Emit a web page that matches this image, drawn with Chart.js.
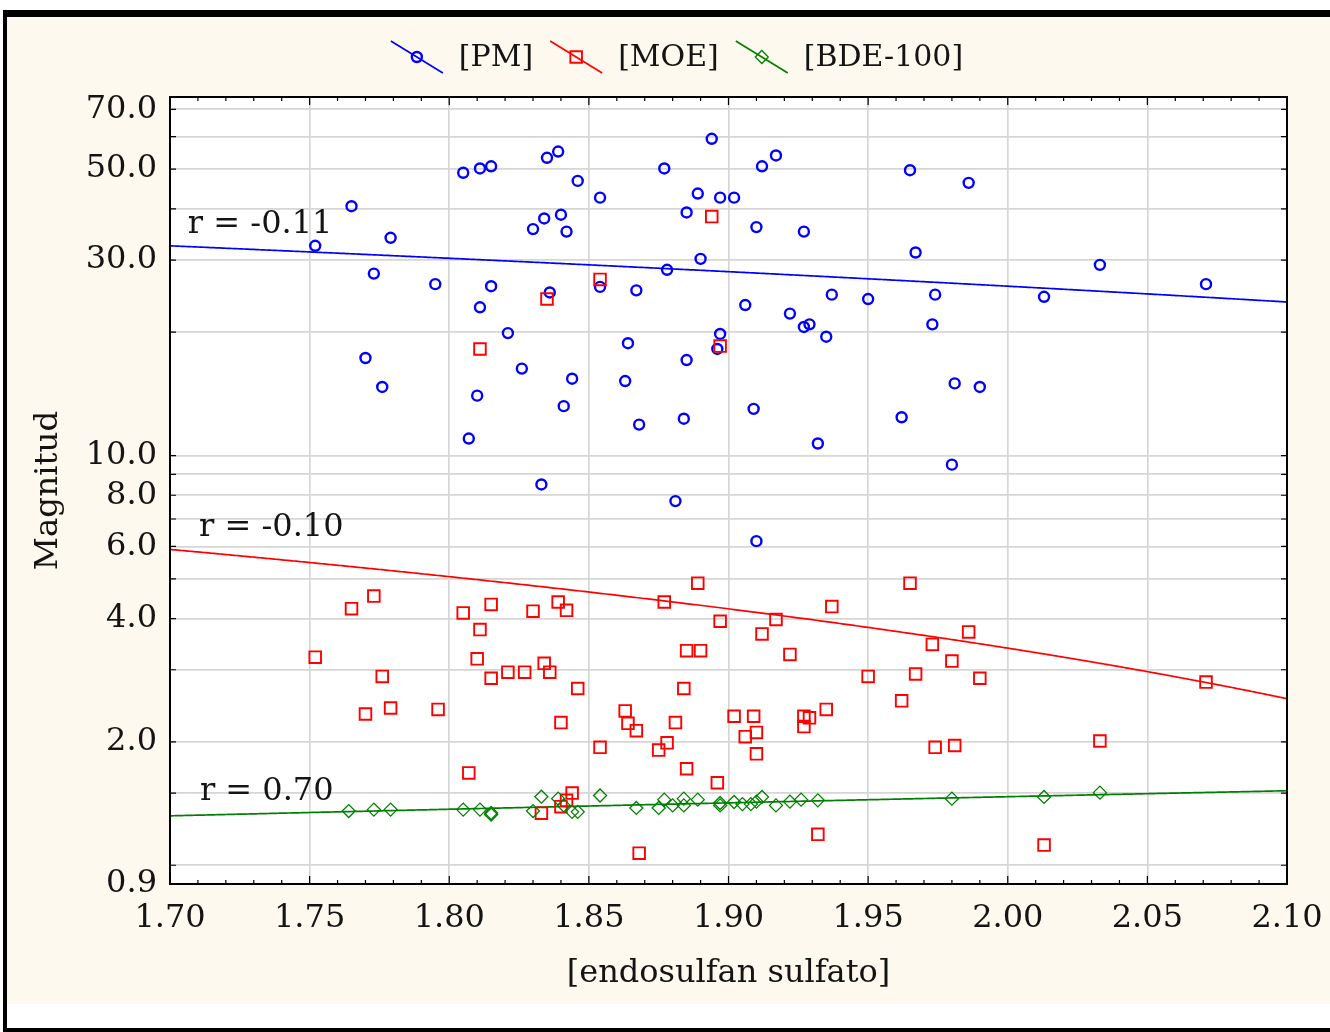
<!DOCTYPE html>
<html><head><meta charset="utf-8">
<script src="https://cdn.jsdelivr.net/npm/chart.js@4/dist/chart.umd.min.js"></script>
<style>
html,body{margin:0;padding:0;background:#fff;width:1330px;height:1032px;overflow:hidden}
#frame{position:absolute;left:3px;top:10px;width:1400px;height:1011px;border-top:7px solid #000;border-left:4px solid #000;border-bottom:4px solid #000;background:#fff}
#c{position:absolute;left:0;top:0;background:#FEF9EE}
</style></head><body>
<div id="frame"><canvas id="c" width="1323" height="987"></canvas></div>
<script>
// ---- data ----
const seriesNames = ['[PM]', '[MOE]', '[BDE-100]'];

const pmX = [1.752,1.765,1.779,1.773,1.795,1.805,1.811,1.815,1.835,1.839,1.830,1.834,1.840,1.842,1.815,1.811,1.821,1.836,1.770,1.776,1.826,1.810,1.807,1.841,1.846,1.854,1.877,1.894,1.889,1.897,1.902,1.885,1.912,1.917,1.910,1.927,1.965,1.890,1.878,1.854,1.867,1.967,1.906,1.922,1.927,1.929,1.937,1.950,1.974,1.973,1.935,1.897,1.896,1.864,1.885,1.844,1.863,1.868,1.884,1.909,1.932,1.962,1.986,2.033,2.071,2.013,1.981,1.990,1.980,1.833,1.881,1.910];
const pmY = [32.5,40.6,34.0,27.8,26.2,49.0,50.2,50.8,53.3,55.2,35.7,37.9,38.7,35.2,25.9,23.0,19.9,25.0,17.3,14.7,16.3,14.0,11.0,13.2,46.8,42.6,50.2,59.3,43.6,42.6,42.6,39.2,50.8,54.0,36.1,35.2,49.7,30.2,28.4,25.8,25.3,31.3,23.3,22.2,20.6,20.9,24.7,24.1,24.7,20.9,19.5,19.8,18.2,18.8,17.1,15.4,15.2,11.9,12.3,13.0,10.7,12.4,46.3,29.2,26.2,24.4,15.0,14.7,9.5,8.5,7.74,6.18];

const moeX = [1.835,1.811,1.894,1.854,1.897,1.752,1.765,1.773,1.776,1.770,1.779,1.796,1.805,1.815,1.811,1.810,1.815,1.821,1.827,1.830,1.839,1.834,1.836,1.807,1.833,1.840,1.842,1.846,1.854,1.844,1.877,1.889,1.897,1.885,1.890,1.884,1.863,1.864,1.867,1.881,1.878,1.875,1.885,1.896,1.868,1.912,1.917,1.922,1.937,1.965,1.973,1.950,1.967,1.962,1.974,1.902,1.909,1.906,1.910,1.910,1.927,1.929,1.927,1.935,1.932,1.986,1.980,1.990,1.981,2.033,2.013,2.071,1.840,1.842];
const moeY = [24.1,18.2,38.3,26.9,18.5,3.22,4.23,4.54,2.89,2.34,2.42,2.40,4.13,4.33,3.76,3.19,2.86,2.96,2.96,4.17,4.39,3.11,2.96,1.68,1.34,2.23,4.19,2.70,1.94,1.50,4.39,4.88,3.94,3.34,3.34,2.70,2.38,2.22,2.13,2.23,1.99,1.91,1.72,1.59,1.07,3.67,3.98,3.27,4.28,4.88,3.46,2.89,2.93,2.52,1.94,2.31,2.31,2.06,2.11,1.87,2.31,2.29,2.18,2.40,1.19,3.71,3.15,2.86,1.96,2.01,1.12,2.80,1.39,1.44];

const bdeX = [1.764,1.773,1.779,1.805,1.811,1.815,1.815,1.830,1.833,1.839,1.841,1.844,1.846,1.854,1.867,1.875,1.877,1.880,1.884,1.884,1.889,1.897,1.897,1.902,1.905,1.908,1.910,1.912,1.917,1.922,1.926,1.932,1.980,2.013,2.033];
const bdeY = [1.356,1.367,1.367,1.367,1.367,1.341,1.33,1.356,1.47,1.454,1.40,1.35,1.35,1.48,1.38,1.38,1.446,1.40,1.40,1.454,1.446,1.419,1.40,1.427,1.41,1.41,1.43,1.468,1.40,1.43,1.446,1.44,1.454,1.468,1.504];

// regression lines (value at x = 1.70 and x = 2.10)
const fitX = [1.70, 2.10];
const pmFit = [32.5, 23.7];
const moeFit = [5.90, 2.55];
const bdeFit = [1.32, 1.52];

const rLabels = ['r = -0.11', 'r = -0.10', 'r = 0.70'];
const rLabelX = [1.7064, 1.7104, 1.7107];
const rLabelY = [36.6, 6.67, 1.515];

const xTickValues = [1.70,1.75,1.80,1.85,1.90,1.95,2.00,2.05,2.10];
const xTickLabels = ['1.70','1.75','1.80','1.85','1.90','1.95','2.00','2.05','2.10'];
const yGridValues = [0.9,1,1.5,2,3,4,5,6,7,8,9,10,20,30,40,50,60,70];
const yTickLabels = ['0.9','','','2.0','','4.0','','6.0','','8.0','','10.0','','30.0','','50.0','','70.0'];

const colors = ['#0000FF', '#FF0000', '#008000'];
const FONT = '"DejaVu Serif", "Liberation Serif", serif';
const TXT = '#141414';

const pts = (xs, ys) => xs.map((x, i) => ({x, y: ys[i]}));
const fits = [{y: pmFit, color: colors[0]}, {y: moeFit, color: colors[1]}, {y: bdeFit, color: colors[2]}];
const markers = [
  {style: 'circle', r: 5, w: 2.4},
  {style: 'rect', r: 8.2, w: 1.9},
  {style: 'rectRot', r: 6.5, w: 1.3}
];

function drawMarker(ctx, m, color, x, y) {
  ctx.save();
  ctx.strokeStyle = color; ctx.lineWidth = m.w;
  ctx.beginPath();
  if (m.style === 'circle') ctx.arc(x, y, m.r, 0, Math.PI * 2);
  else if (m.style === 'rect') { const s = m.r * Math.SQRT1_2; ctx.rect(x - s, y - s, 2 * s, 2 * s); }
  else { ctx.moveTo(x - m.r, y); ctx.lineTo(x, y - m.r); ctx.lineTo(x + m.r, y); ctx.lineTo(x, y + m.r); ctx.closePath(); }
  ctx.stroke();
  ctx.restore();
}

const decor = {
  id: 'decor',
  beforeDraw(chart) {
    const {ctx, chartArea: a} = chart;
    ctx.save(); ctx.fillStyle = '#fff';
    ctx.fillRect(a.left, a.top, a.right - a.left, a.bottom - a.top);
    ctx.restore();
  },
  beforeDatasetsDraw(chart) {
    const {ctx, chartArea: a, scales: {x, y}} = chart;
    ctx.save();
    ctx.beginPath(); ctx.rect(a.left, a.top, a.right - a.left, a.bottom - a.top); ctx.clip();
    fits.forEach(f => {
      ctx.beginPath(); ctx.strokeStyle = f.color; ctx.lineWidth = 1.7;
      let first = true;
      for (let px = a.left; px <= a.right + 2; px += 2) {
        const xv = x.getValueForPixel(px);
        const t = (xv - fitX[0]) / (fitX[1] - fitX[0]);
        const yv = f.y[0] + (f.y[1] - f.y[0]) * t;
        const py = y.getPixelForValue(yv);
        if (first) { ctx.moveTo(px, py); first = false; } else ctx.lineTo(px, py);
      }
      ctx.stroke();
    });
    ctx.restore();
  },
  afterDatasetsDraw(chart) {
    const {ctx, chartArea: a, scales: {x, y}} = chart;
    ctx.save();
    ctx.strokeStyle = '#000'; ctx.lineWidth = 1.2;
    ctx.beginPath();
    for (let i = 0; i < xTickValues.length; i++) {
      const px = x.getPixelForValue(xTickValues[i]);
      ctx.moveTo(px, a.bottom); ctx.lineTo(px, a.bottom - 8);
      ctx.moveTo(px, a.top); ctx.lineTo(px, a.top + 8);
      if (i < xTickValues.length - 1) {
        for (let k = 1; k < 5; k++) {
          const v = xTickValues[i] + (xTickValues[i + 1] - xTickValues[i]) * k / 5;
          const q = x.getPixelForValue(v);
          ctx.moveTo(q, a.bottom); ctx.lineTo(q, a.bottom - 4);
          ctx.moveTo(q, a.top); ctx.lineTo(q, a.top + 4);
        }
      }
    }
    yGridValues.forEach(v => {
      const py = y.getPixelForValue(v);
      ctx.moveTo(a.left, py); ctx.lineTo(a.left + 6, py);
      ctx.moveTo(a.right, py); ctx.lineTo(a.right - 6, py);
    });
    ctx.stroke();
    ctx.lineWidth = 2;
    ctx.strokeRect(a.left, a.top, a.right - a.left, a.bottom - a.top);
    ctx.fillStyle = TXT; ctx.font = '32px ' + FONT;
    ctx.textAlign = 'left'; ctx.textBaseline = 'middle';
    rLabels.forEach((t, i) => ctx.fillText(t, x.getPixelForValue(rLabelX[i]), y.getPixelForValue(rLabelY[i])));
    ctx.restore();
  },
  afterDraw(chart) {
    const {ctx} = chart;
    ctx.save();
    ctx.font = '30px ' + FONT; ctx.fillStyle = TXT;
    ctx.textAlign = 'left'; ctx.textBaseline = 'middle';
    const iconW = 52, gap1 = 16, gap2 = 17, cy = 40, cx = 670;
    const widths = seriesNames.map(n => ctx.measureText(n).width);
    const total = widths.reduce((s, w) => s + w + iconW + gap1, 0) + gap2 * (seriesNames.length - 1);
    let xx = cx - total / 2;
    seriesNames.forEach((n, i) => {
      ctx.strokeStyle = colors[i]; ctx.lineWidth = 1.6;
      ctx.beginPath(); ctx.moveTo(xx, cy - 16); ctx.lineTo(xx + iconW, cy + 16); ctx.stroke();
      drawMarker(ctx, markers[i], colors[i], xx + iconW / 2, cy);
      ctx.fillText(n, xx + iconW + gap1, cy + 1);
      xx += iconW + gap1 + widths[i] + gap2;
    });
    ctx.restore();
  }
};

const datasets = [
  {label: seriesNames[0], data: pts(pmX, pmY), order: 3},
  {label: seriesNames[1], data: pts(moeX, moeY), order: 2},
  {label: seriesNames[2], data: pts(bdeX, bdeY), order: 1}
].map((d, i) => Object.assign(d, {
  borderColor: colors[i], backgroundColor: 'rgba(0,0,0,0)',
  pointStyle: markers[i].style, pointRadius: markers[i].r, pointBorderWidth: markers[i].w,
  pointHoverRadius: markers[i].r, showLine: false
}));

new Chart(document.getElementById('c').getContext('2d'), {
  type: 'scatter',
  data: {datasets},
  plugins: [decor],
  options: {
    responsive: false, animation: false,
    layout: {padding: {left: 0, top: 80, right: 43, bottom: 0}},
    plugins: {legend: {display: false}, tooltip: {enabled: false}},
    scales: {
      x: {
        type: 'linear', min: 1.70, max: 2.10,
        afterBuildTicks: s => { s.ticks = xTickValues.map(v => ({value: v})); },
        afterFit: s => { s.height = 120; s.paddingLeft = 0; s.paddingRight = 0; },
        ticks: {autoSkip: false, maxRotation: 0, padding: 15, color: TXT,
          font: {family: FONT, size: 32}, callback: (v, i) => xTickLabels[i]},
        grid: {color: '#d6d6d6', lineWidth: 1.7, drawTicks: false},
        border: {display: false},
        title: {display: true, text: '[endosulfan sulfato]', color: TXT,
          font: {family: FONT, size: 32}, padding: {top: 0, bottom: 11}}
      },
      y: {
        type: 'logarithmic', min: 0.9, max: 75,
        afterBuildTicks: s => { s.ticks = yGridValues.map(v => ({value: v})); },
        afterFit: s => { s.width = 163; s.paddingTop = 0; s.paddingBottom = 0; },
        ticks: {autoSkip: false, padding: 13, color: TXT,
          font: {family: FONT, size: 32}, callback: (v, i) => yTickLabels[i]},
        grid: {color: '#d6d6d6', lineWidth: 1.7, drawTicks: false},
        border: {display: false},
        title: {display: true, text: 'Magnitud', color: TXT,
          font: {family: FONT, size: 32.5}, padding: {top: 22, bottom: 0}}
      }
    }
  }
});
</script>
</body></html>
